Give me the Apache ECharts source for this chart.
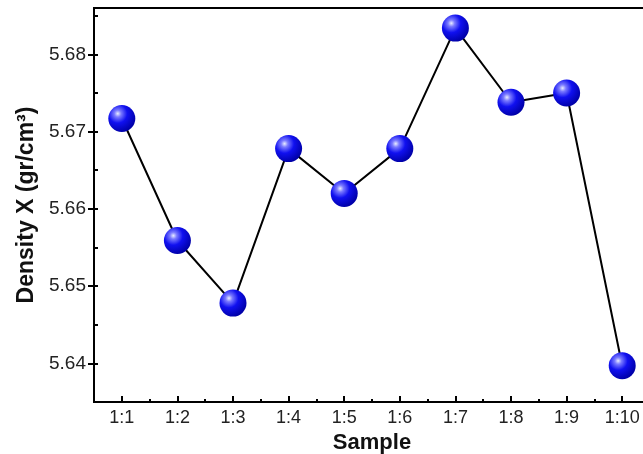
<!DOCTYPE html>
<html>
<head>
<meta charset="utf-8">
<script src="https://cdn.jsdelivr.net/npm/echarts@6/dist/echarts.min.js"></script>
<style>html,body{margin:0;padding:0;background:#fff;overflow:hidden;width:643px;height:454px}#c{width:652px;height:454px}</style>
</head>
<body>
<div id="c"></div>
<script>
const categories = ['1:1','1:2','1:3','1:4','1:5','1:6','1:7','1:8','1:9','1:10'];
const density = [5.6717, 5.6559, 5.6478, 5.6678, 5.6620, 5.6678, 5.6834, 5.6738, 5.6750, 5.6397];
const yMajorTicks = [5.64, 5.65, 5.66, 5.67, 5.68];
const yAllTicks = [5.64, 5.645, 5.65, 5.655, 5.66, 5.665, 5.67, 5.675, 5.68, 5.685];
const xMinorSlots = ['','','','','','','','','','','','','','','','','','','',''];

const font = 'Arial, "Liberation Sans", sans-serif';
const chart = echarts.init(document.getElementById('c'), null, {renderer: 'canvas'});
const ball = new echarts.graphic.RadialGradient(0.35, 0.32, 0.7, [
  {offset: 0, color: '#e8ecff'},
  {offset: 0.18, color: '#7a7aff'},
  {offset: 0.5, color: '#1010f0'},
  {offset: 1, color: '#0000a8'}
]);
chart.setOption({
  animation: false,
  backgroundColor: '#fff',
  grid: {left: 94, top: 8, right: 2, bottom: 52, outerBoundsMode: 'none', containLabel: false,
    show: true, borderColor: '#000', borderWidth: 2, backgroundColor: 'transparent'},
  xAxis: [{
    type: 'category', data: categories, boundaryGap: true, position: 'bottom',
    axisLine: {lineStyle: {color: '#000', width: 2}},
    axisTick: {show: true, inside: true, alignWithLabel: true, length: 6, lineStyle: {color: '#000', width: 2}},
    axisLabel: {color: '#222', fontSize: 18, fontFamily: font, margin: 7},
    name: 'Sample', nameLocation: 'middle', nameGap: 26,
    nameTextStyle: {color: '#111', fontSize: 22, fontWeight: 'bold', fontFamily: font}
  }, {
    type: 'category', data: xMinorSlots, boundaryGap: true, position: 'bottom',
    axisLine: {show: false},
    axisTick: {show: true, inside: true, length: 3, lineStyle: {color: '#000', width: 2}},
    axisLabel: {show: false}
  }],
  yAxis: [{
    type: 'value', min: 5.635, max: 5.686, position: 'left',
    axisLine: {show: true, lineStyle: {color: '#000', width: 2}},
    axisTick: {show: true, inside: false, length: 6, customValues: yMajorTicks, lineStyle: {color: '#000', width: 2}},
    axisLabel: {customValues: yMajorTicks, color: '#222', fontSize: 19, fontFamily: font, margin: 8,
      formatter: v => v.toFixed(2)},
    splitLine: {show: false},
    name: 'Density X (gr/cm³)', nameLocation: 'middle', nameGap: 56,
    nameTextStyle: {color: '#111', fontSize: 23, fontWeight: 'bold', fontFamily: font}
  }, {
    type: 'value', min: 5.635, max: 5.686, position: 'left',
    axisLine: {show: false},
    axisTick: {show: true, inside: true, length: 4, customValues: yAllTicks, lineStyle: {color: '#000', width: 2}},
    axisLabel: {show: false},
    splitLine: {show: false}
  }],
  series: [{
    type: 'line', xAxisIndex: 0, yAxisIndex: 0, data: density,
    lineStyle: {color: '#000', width: 2},
    symbol: 'circle', symbolSize: 27,
    itemStyle: {color: ball, borderWidth: 0},
    z: 3
  }]
});
</script>
</body>
</html>
